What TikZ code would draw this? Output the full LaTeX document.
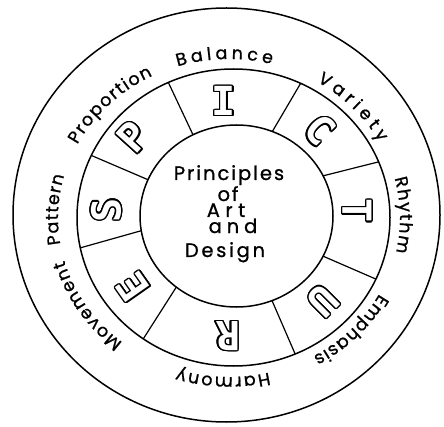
\documentclass[tikz,border=0pt]{standalone}
\usepackage{fontspec}
\usetikzlibrary{decorations.text}
\newfontfamily\handfont[LetterSpace=10,FakeBold=1]{Poppins}
\newfontfamily\arcfont[FakeBold=1]{Poppins}
\newfontfamily\bubblefont{DejaVu Sans Mono}
\tikzset{
  ring/.style={line width=1.5pt, draw=black},
  spoke/.style={line width=1.2pt, draw=black},
  bubbleout/.style={inner sep=0pt, text=black, font=\bubblefont\bfseries\fontsize{40}{40}\selectfont},
  bubblein/.style={inner sep=0pt, text=white, font=\bubblefont\bfseries\fontsize{40}{40}\selectfont},
  centertext/.style={inner sep=0pt, anchor=base, font=\handfont\fontsize{19.5}{19.5}\selectfont},
  arclabel/.style={decorate, decoration={text along path, text={|\arcfont\fontsize{17.5}{17.5}\selectfont|#1}, text align={fit to path}}},
}
\newcommand\bubbleletter[4]{%
  \foreach \a in {0,22.5,...,337.5}
    \node[bubbleout, rotate=#3, shift={(\a:1.4)}] at (#2) {#4};
  \node[bubblein, rotate=#3] (#1) at (#2) {#4};
}
\begin{document}
\begin{tikzpicture}[x=1pt,y=1pt]
\fill[white] (0,0) rectangle (444,426);
\useasboundingbox (0,0) rectangle (444,426);
% centres
\coordinate (OC) at (226.5,211);
\coordinate (MC) at (233.5,208.5);
\coordinate (IC) at (236.5,210);
\coordinate (TC) at (229,208);
% rings
\draw[ring] (OC) ellipse [x radius=213.5, y radius=207];
\draw[ring] (MC) ellipse [x radius=156.5, y radius=148.5];
\draw[ring] (IC) ellipse [x radius=96.5, y radius=91];
% spokes
\foreach \n/\a/\b in {1/116.8/114.6, 2/68.2/64.6, 3/26.2/22.0, 4/-26.2/-24.5, 5/-68.4/-66.8, 6/231.4/234.8, 7/189.3/191.8, 8/156.5/155.3}{
  \path (IC) ++(\a:96.5 and 91) coordinate (si\n);
  \path (MC) ++(\b:156.5 and 148.5) coordinate (so\n);
  \draw[spoke] (si\n) -- (so\n);
}
% bubble letters
\bubbleletter{lI}{224,325}{0}{I}
\bubbleletter{lC}{320,296}{-45}{C}
\bubbleletter{lT}{357,215}{-90}{T}
\bubbleletter{lU}{323,125}{-135}{U}
\bubbleletter{lR}{228,90}{180}{R}
\bubbleletter{lE}{133,139}{125}{E}
\bubbleletter{lS}{106,216}{90}{S}
\bubbleletter{lP}{133,289}{48}{P}
% centre text
\node[centertext] (t1) at (229,246) {Principles};
\node[centertext] (t2) at (228,225) {of};
\node[centertext] (t3) at (226,209) {\addfontfeatures{LetterSpace=28}Art};
\node[centertext] (t4) at (233,193) {\addfontfeatures{LetterSpace=25}and};
\node[centertext] (t5) at (225,169) {\addfontfeatures{LetterSpace=14}Design};
% outer labels
\path[arclabel=Balance] (TC) ++(107.5:171 and 159) arc[start angle=107.5, end angle=75.5, x radius=171, y radius=159];
\path[arclabel=Variety] (TC) ++(59:171 and 159) arc[start angle=59, end angle=28.5, x radius=171, y radius=159];
\path[arclabel=Rhythm] (TC) ++(14.5:171 and 159) arc[start angle=14.5, end angle=-12.5, x radius=171, y radius=159];
\path[arclabel=Emphasis] (TC) ++(-28.5:171 and 159) arc[start angle=-28.5, end angle=-60.5, x radius=171, y radius=159];
\path[arclabel=Harmony] (TC) ++(-76.5:171 and 159) arc[start angle=-76.5, end angle=-107.5, x radius=171, y radius=159];
\path[arclabel=Movement] (TC) ++(231.5:171 and 159) arc[start angle=231.5, end angle=195.5, x radius=171, y radius=159];
\path[arclabel=Pattern] (TC) ++(189.5:171 and 159) arc[start angle=189.5, end angle=164.5, x radius=171, y radius=159];
\path[arclabel=Proportion] (TC) ++(152.5:171 and 159) arc[start angle=152.5, end angle=116.5, x radius=171, y radius=159];
\end{tikzpicture}
\end{document}
